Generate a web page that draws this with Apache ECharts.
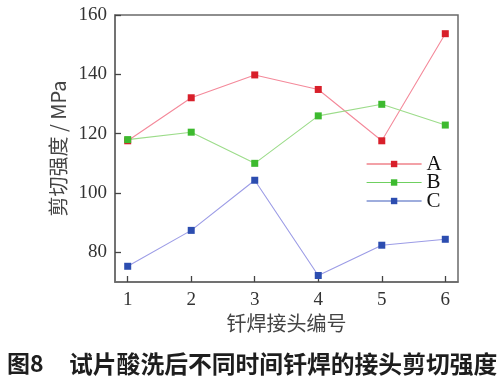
<!DOCTYPE html>
<html><head><meta charset="utf-8">
<script src="https://cdn.jsdelivr.net/npm/echarts@6/dist/echarts.min.js"></script>
<style>html,body{margin:0;padding:0;background:#fff}#c{width:504px;height:384px}</style>
</head><body><div id="c"></div>
<script>
const categories = [1, 2, 3, 4, 5, 6];
const seriesA = [117.6, 132.1, 139.8, 134.9, 117.6, 153.7];
const seriesB = [118.0, 120.5, 110.0, 126.0, 129.9, 122.9];
const seriesC = [75.3, 87.4, 104.3, 72.2, 82.4, 84.4];
const yTickMin = 80, yTickMax = 160, yTickStep = 20;
const xTickMin = 1, xTickMax = 6, xTickStep = 1;
const xMin = 0.8, xMax = 6.2, yMin = 70, yMax = 160;
const seriesNames = ['A', 'B', 'C'];
const xName = '钎焊接头编号';
const yName = '剪切强度 / MPa';
const caption = '试片酸洗后不同时间钎焊的接头剪切强度';
const captionNo = '图8';

const markerColors = ['#d81f2a', '#3dba2f', '#2c4db0'];
const lineColors = ['#f4899a', '#9cdc8a', '#9c9ce6'];
const legendLineColors = ['#e84450', '#6fd060', '#3e5cbc'];
const serif = '"Liberation Serif","DejaVu Serif",serif';
const cjk = '"Noto Sans CJK SC","Noto Sans",sans-serif';

// main plot box
const G = { left: 115, right: 46, top: 15, bottom: 102 };
const W = 504 - G.left - G.right, H = 384 - G.top - G.bottom;
const pxX = W / (xMax - xMin), pxY = H / (yMax - yMin);
// helper grids whose extents coincide with tick ranges, so ticks align with the main scale
const gridYTicks = { left: G.left, right: G.right, top: G.top + (yMax - yTickMax) * pxY, bottom: G.bottom + (yTickMin - yMin) * pxY };
const gridXTicks = { left: G.left + (xTickMin - xMin) * pxX, right: G.right + (xMax - xTickMax) * pxX, top: G.top, bottom: G.bottom };

const chart = echarts.init(document.getElementById('c'));
const allData = [seriesA, seriesB, seriesC];
const tickStyle = { color: '#444', width: 1.3 };
const axisLineStyle = { color: '#6a6a6a', width: 1.5 };
const labelStyle = { fontFamily: serif, fontSize: 19, color: '#333' };
chart.setOption({
  animation: false,
  grid: [
    Object.assign({ show: true, borderColor: '#6a6a6a', borderWidth: 1.5, backgroundColor: 'transparent' }, G),
    gridYTicks,
    gridXTicks
  ],
  legend: {
    orient: 'vertical', left: 366, top: 153.5, padding: 0, itemWidth: 55, itemHeight: 8, itemGap: -2.5,
    textStyle: { fontFamily: serif, fontSize: 21, color: '#111' },
    data: seriesNames.map((n, i) => ({ name: n, lineStyle: { color: legendLineColors[i], width: 1.2 } }))
  },
  xAxis: [
    {
      gridIndex: 0, type: 'value', min: xMin, max: xMax,
      name: xName, nameLocation: 'middle', nameGap: 31,
      nameTextStyle: { fontFamily: cjk, fontSize: 20, color: '#444' },
      axisLine: { show: true, lineStyle: axisLineStyle },
      axisTick: { show: false }, axisLabel: { show: false }, splitLine: { show: false }
    },
    { gridIndex: 1, type: 'value', show: false, min: xMin, max: xMax },
    {
      gridIndex: 2, type: 'value', min: xTickMin, max: xTickMax, interval: xTickStep,
      axisLine: { show: false },
      axisTick: { show: true, inside: true, length: 6, lineStyle: tickStyle },
      axisLabel: Object.assign({ margin: 9 }, labelStyle),
      splitLine: { show: false }
    }
  ],
  yAxis: [
    {
      gridIndex: 0, type: 'value', min: yMin, max: yMax,
      name: yName, nameLocation: 'middle', nameGap: 47, nameRotate: 90,
      nameTextStyle: { fontFamily: cjk, fontSize: 20, color: '#444' },
      axisLine: { show: true, lineStyle: axisLineStyle },
      axisTick: { show: false }, axisLabel: { show: false }, splitLine: { show: false }
    },
    {
      gridIndex: 1, type: 'value', min: yTickMin, max: yTickMax, interval: yTickStep,
      axisLine: { show: false },
      axisTick: { show: true, inside: true, length: 6, lineStyle: tickStyle },
      axisLabel: Object.assign({ margin: 8 }, labelStyle),
      splitLine: { show: false }
    },
    { gridIndex: 2, type: 'value', show: false, min: yMin, max: yMax }
  ],
  series: seriesNames.map((n, i) => ({
    name: n, type: 'line', xAxisIndex: 0, yAxisIndex: 0,
    data: categories.map((c, j) => [c, allData[i][j]]),
    symbol: 'rect', symbolSize: 7,
    itemStyle: { color: markerColors[i] },
    lineStyle: { color: lineColors[i], width: 1.1 }
  })),
  graphic: [
    { type: 'text', left: 7, top: 352, style: { text: captionNo, font: 'bold 23px ' + cjk, fill: '#1e1e1e' } },
    { type: 'text', left: 69, top: 352, style: { text: caption, font: 'bold 23.8px ' + cjk, fill: '#1e1e1e' } }
  ]
});
</script></body></html>
